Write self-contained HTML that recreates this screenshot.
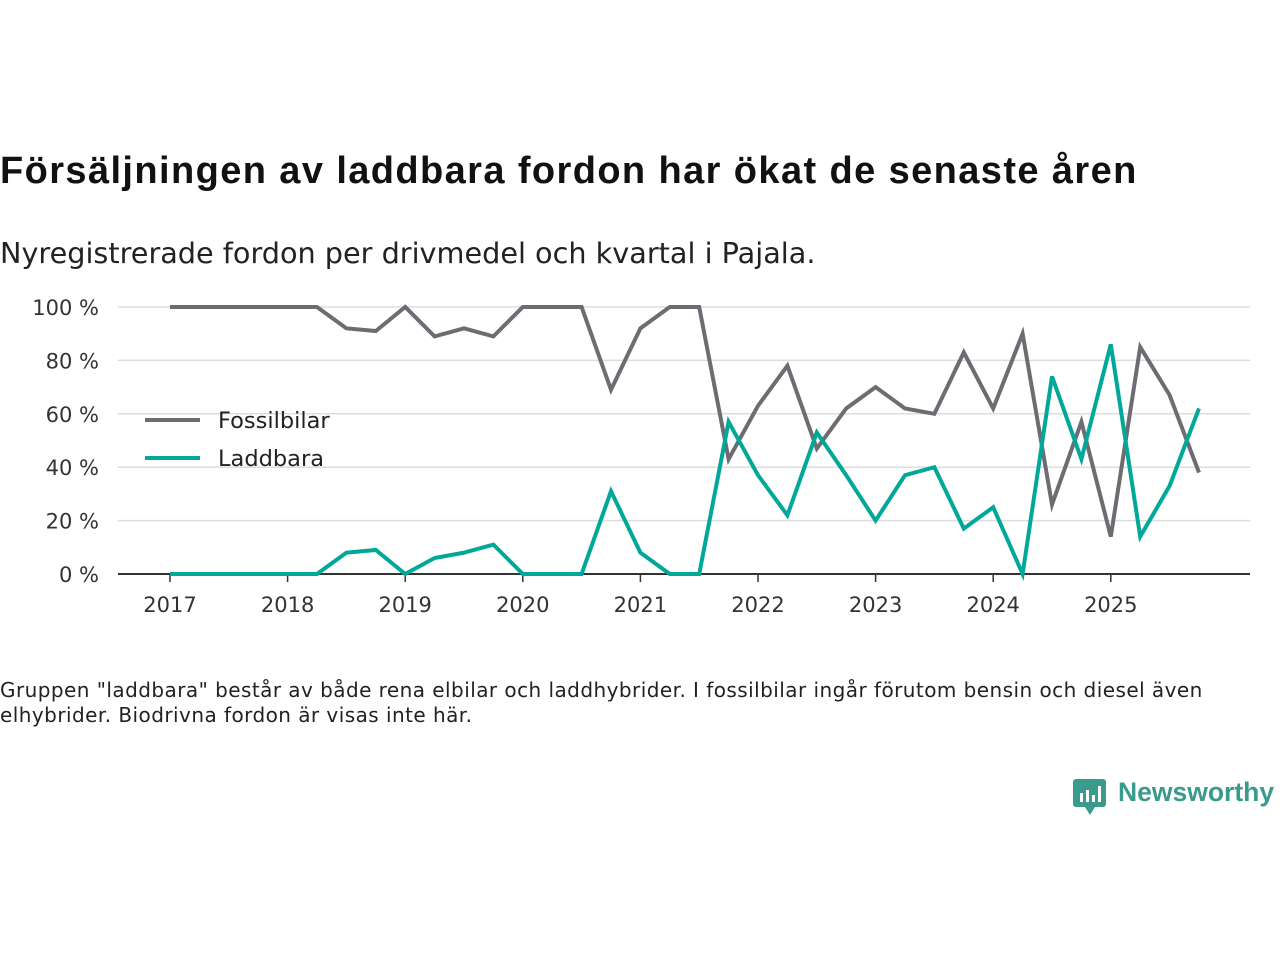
<!DOCTYPE html>
<html><head><meta charset="utf-8"><style>
body{margin:0;width:1280px;height:960px;background:#fff;font-family:"Liberation Sans","DejaVu Sans",sans-serif;color:#111;position:relative;overflow:hidden}
.t{position:absolute;left:0;white-space:nowrap}
</style></head><body>
<div class="t" style="top:150px;font-size:38px;font-weight:bold;letter-spacing:1.4px">Försäljningen av laddbara fordon har ökat de senaste åren</div>
<div class="t" style="top:236px;font-size:28.7px;color:#222;font-family:'DejaVu Sans',sans-serif">Nyregistrerade fordon per drivmedel och kvartal i Pajala.</div>
<svg id="c" width="1280" height="640" style="position:absolute;left:0;top:0" font-family="DejaVu Sans, sans-serif"></svg>
<div class="t" style="top:678px;font-size:20px;line-height:25px;color:#222;font-family:'DejaVu Sans',sans-serif;letter-spacing:0.45px">Gruppen "laddbara" består av både rena elbilar och laddhybrider. I fossilbilar ingår förutom bensin och diesel även<br>elhybrider. Biodrivna fordon är visas inte här.</div>
<div style="position:absolute;left:1072px;top:776px;height:42px">
<svg width="36" height="42" style="position:absolute;left:0;top:2px"><rect x="1" y="1" width="33" height="28" rx="3" fill="#3a9a8c"/><polygon points="13,29 23,29 18,37" fill="#3a9a8c"/><rect x="8" y="15" width="3" height="9" fill="#fff"/><rect x="14" y="12" width="3" height="12" fill="#fff"/><rect x="20" y="17" width="3" height="7" fill="#fff"/><rect x="26" y="8" width="3" height="16" fill="#fff"/></svg>
<span style="position:absolute;left:46px;top:1px;font-size:26.5px;font-weight:bold;color:#3a9a8c;white-space:nowrap">Newsworthy</span></div>
<script>
const years=[2017,2018,2019,2020,2021,2022,2023,2024,2025];
const yTicks=[0,20,40,60,80,100];
const fossil=[100,100,100,100,100,100,92,91,100,89,92,89,100,100,100,69,92,100,100,43,63,78,47,62,70,62,60,83,62,90,26,57,14,85,67,38];
const laddbara=[0,0,0,0,0,0,8,9,0,6,8,11,0,0,0,31,8,0,0,57,37,22,53,37,20,37,40,17,25,0,74,43,86,14,33,62];
const svg=document.getElementById('c');const NS='http://www.w3.org/2000/svg';
const x=q=>170+q*117.6/4;const y=v=>574-v*2.67;
function mk(t,a){const e=document.createElementNS(NS,t);for(const k in a)e.setAttribute(k,a[k]);svg.appendChild(e);return e;}
yTicks.forEach(v=>{const l=mk('line',{x1:118,x2:1250,y1:y(v),y2:y(v),stroke:v===0?'#333':'#ddd','stroke-width':v===0?2:1.5});


const t=mk('text',{x:99,y:y(v)+8,'text-anchor':'end','font-size':21,fill:'#333'});t.textContent=v+' %';

});
years.forEach((yr,i)=>{const xx=x(i*4);mk('line',{x1:xx,x2:xx,y1:574,y2:582,stroke:'#333','stroke-width':1.5});
const t=mk('text',{x:xx,y:612,'text-anchor':'middle','font-size':21,fill:'#333'});t.textContent=yr;

});
function series(d,col,name){const p=mk('polyline',{points:d.map((v,i)=>x(i)+','+y(v)).join(' '),fill:'none',stroke:col,'stroke-width':4,'stroke-linejoin':'miter'});

}
series(fossil,'#6d6c72','fossilbilar-line');
series(laddbara,'#00a899','laddbara-line');
[['Fossilbilar','#6d6c72',420],['Laddbara','#00a899',458]].forEach(([n,c,yy])=>{
const l=mk('line',{x1:145,x2:200,y1:yy,y2:yy,stroke:c,'stroke-width':4});


const t=mk('text',{x:218,y:yy+8,'font-size':22.5,fill:'#222'});t.textContent=n;

});
</script>
</body></html>
